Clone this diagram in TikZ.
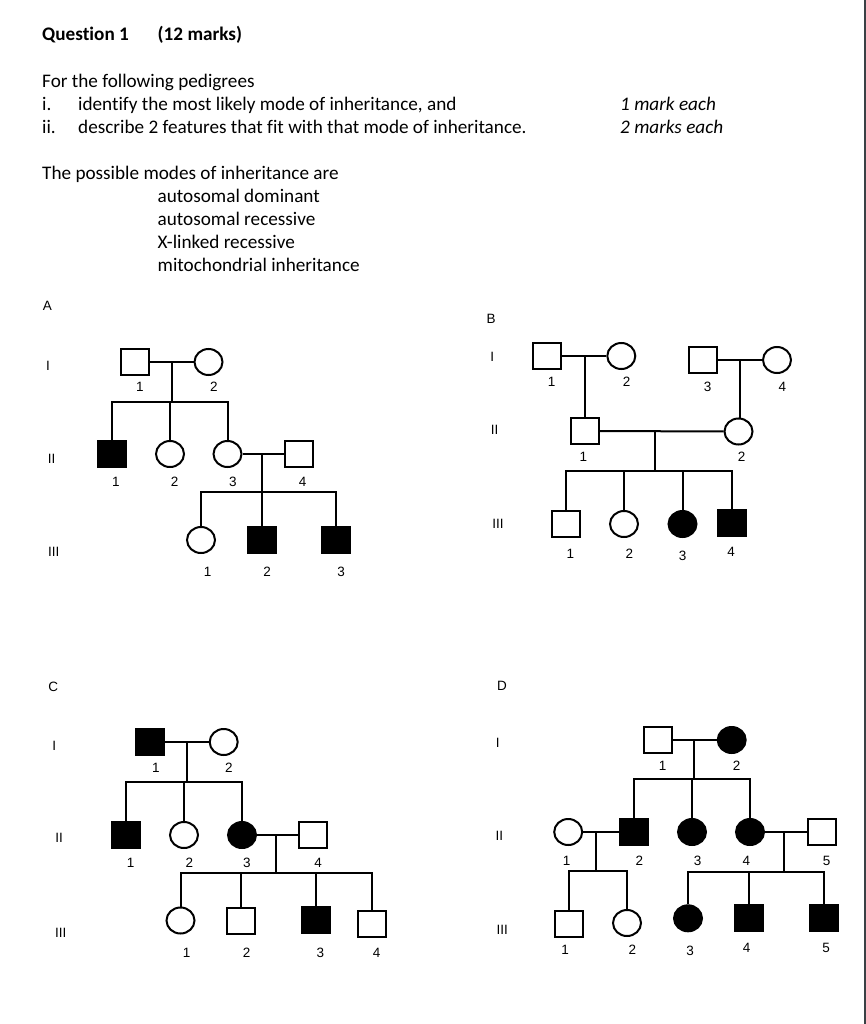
\documentclass[tikz,border=0pt]{standalone}
\usepackage{fontspec}
\setmainfont{Carlito}[Ligatures=NoCommon]
\newfontfamily\arialf{Liberation Sans}
\usetikzlibrary{shapes.geometric}
\definecolor{bordergray}{HTML}{3A4045}
\begin{document}
\begin{tikzpicture}[x=1pt,y=-1pt,
  ped/.style={line width=2pt},
  male/.style={draw, rectangle, minimum width=28pt, minimum height=26pt, inner sep=0pt, line width=2pt},
  female/.style={draw, ellipse, minimum width=28pt, minimum height=26pt, inner sep=0pt, line width=2pt},
  aff/.style={fill=black},
  lbl/.style={font=\arialf\fontsize{13.5}{15}\selectfont, inner sep=0pt},
  hdr/.style={font=\fontsize{19.2}{23}\selectfont, inner sep=0pt, anchor=base west},
]
\fill[white] (0,0) rectangle (866,1024);
\useasboundingbox (0,0) rectangle (866,1024);
\coordinate (bt) at (864.8,0);
\coordinate (bb) at (864.8,1024);
\draw[line width=2.3pt, bordergray] (bt) -- (bb);

% ---------- header text ----------
\node[hdr, font=\bfseries\fontsize{19.2}{23}\selectfont] (q1) at (42,40.5) {Question 1};
\node[hdr, font=\bfseries\fontsize{19.2}{23}\selectfont] (q2) at (157.5,40.5) {(12 marks)};
\node[hdr] (t1) at (42,87.5) {For the following pedigrees};
\node[hdr] (t2a) at (42,110.5) {i.};
\node[hdr] (t2b) at (78,110.5) {identify the most likely mode of inheritance, and};
\node[hdr] (t3a) at (42,133.5) {ii.};
\node[hdr] (t3b) at (78,133.5) {describe 2 features that fit with that mode of inheritance.};
\node[hdr, font=\itshape\fontsize{19.2}{23}\selectfont] (m1) at (620,110.5) {1 mark each};
\node[hdr, font=\itshape\fontsize{19.2}{23}\selectfont] (m2) at (620,133.5) {2 marks each};
\node[hdr] (t4) at (42,179.5) {The possible modes of inheritance are};
\node[hdr] (t5) at (157.5,202.5) {autosomal dominant};
\node[hdr] (t6) at (157.5,225.5) {autosomal recessive};
\node[hdr] (t7) at (157.5,248.5) {X-linked recessive};
\node[hdr] (t8) at (157.5,271.5) {mitochondrial inheritance};

% ================= Pedigree A =================
\node[lbl] (LA) at (47.3,306) {A};
\node[lbl] (gA1) at (48,366) {I};
\node[lbl] (gA2) at (51.7,459) {II};
\node[lbl] (gA3) at (53.7,552) {III};
\node[male] (A11) at (135,362) {};
\node[female] (A12) at (208.5,362) {};
\node[male, aff] (A21) at (111.5,454) {};
\node[female] (A22) at (170,454) {};
\node[female] (A23) at (227.5,454) {};
\node[male] (A24) at (299,454) {};
\node[female] (A31) at (201,540) {};
\node[male, aff] (A32) at (261.7,540) {};
\node[male, aff] (A33) at (335.5,540) {};
\coordinate (mA1) at (172,362);
\coordinate (sA1) at (172,402);
\coordinate (mA2) at (261.7,454);
\coordinate (sA2) at (261.7,492);
\draw[ped] (A11) -- (A12);
\draw[ped] (mA1) -- (sA1);
\draw[ped] (A21) |- (sA1) -| (A23);
\draw[ped] (A22) -- (A22 |- sA1);
\draw[ped] (A23) -- (A24);
\draw[ped] (mA2) -- (sA2);
\draw[ped] (A31) |- (sA2) -| (A33);
\draw[ped] (A32) -- (sA2);
\node[lbl] (nA11) at (140,387) {1};
\node[lbl] (nA12) at (214,387) {2};
\node[lbl] (nA21) at (116,482) {1};
\node[lbl] (nA22) at (174.7,482) {2};
\node[lbl] (nA23) at (233,482) {3};
\node[lbl] (nA24) at (302.7,482) {4};
\node[lbl] (nA31) at (207.7,572) {1};
\node[lbl] (nA32) at (267,572) {2};
\node[lbl] (nA33) at (341,572) {3};

% ================= Pedigree B =================
\node[lbl] (LB) at (491,319) {B};
\node[lbl] (gB1) at (492.3,357) {I};
\node[lbl] (gB2) at (494.7,430) {II};
\node[lbl] (gB3) at (498,524) {III};
\node[male] (B11) at (547,356) {};
\node[female] (B12) at (621.3,356) {};
\node[male] (B13) at (703.3,360) {};
\node[female] (B14) at (777,360) {};
\node[male] (B21) at (584.7,431) {};
\node[female] (B22) at (738.5,431.5) {};
\node[male] (B31) at (566,524) {};
\node[female] (B32) at (624,524) {};
\node[female, aff] (B33) at (682.5,524) {};
\node[male, aff] (B34) at (732,523) {};
\coordinate (mB1) at (584.7,356);
\coordinate (mB2) at (739.7,360);
\coordinate (mB3) at (655.3,431.5);
\coordinate (sB) at (655.3,471);
\draw[ped] (B11) -- (B12);
\draw[ped] (B13) -- (B14);
\draw[ped] (mB1) -- (B21);
\draw[ped] (mB2) -- (mB2 |- B22.north);
\draw[ped] (B21) -- (B22);
\draw[ped] (mB3) -- (sB);
\draw[ped] (B31) |- (sB) -| (B34);
\draw[ped] (B32) -- (B32 |- sB);
\draw[ped] (B33) -- (B33 |- sB);
\node[lbl] (nB11) at (551.7,382) {1};
\node[lbl] (nB12) at (626.7,382) {2};
\node[lbl] (nB13) at (707.7,387) {3};
\node[lbl] (nB14) at (782.3,387) {4};
\node[lbl] (nB21) at (583.3,457) {1};
\node[lbl] (nB22) at (741.7,457) {2};
\node[lbl] (nB31) at (570.3,554) {1};
\node[lbl] (nB32) at (629.3,554) {2};
\node[lbl] (nB33) at (682.7,556) {3};
\node[lbl] (nB34) at (731,552) {4};

% ================= Pedigree C =================
\node[lbl] (LC) at (53.3,687) {C};
\node[lbl] (gC1) at (54.3,746) {I};
\node[lbl] (gC2) at (59,838) {II};
\node[lbl] (gC3) at (60.7,933) {III};
\node[male, aff] (C11) at (149.8,742) {};
\node[female] (C12) at (223.7,742) {};
\node[male, aff] (C21) at (126,835) {};
\node[female] (C22) at (184,835) {};
\node[female, aff] (C23) at (242,835) {};
\node[male] (C24) at (313.3,835) {};
\node[female] (C31) at (180.5,920.5) {};
\node[male] (C32) at (241.3,921) {};
\node[male, aff] (C33) at (315.5,920) {};
\node[male] (C34) at (372,924) {};
\coordinate (mC1) at (186.7,742);
\coordinate (sC1) at (186.7,782);
\coordinate (mC2) at (276,835);
\coordinate (sC2) at (276,873);
\draw[ped] (C11) -- (C12);
\draw[ped] (mC1) -- (sC1);
\draw[ped] (C21) |- (sC1) -| (C23);
\draw[ped] (C22) -- (C22 |- sC1);
\draw[ped] (C23) -- (C24);
\draw[ped] (mC2) -- (sC2);
\draw[ped] (C31) |- (sC2) -| (C34);
\draw[ped] (C32) -- (C32 |- sC2);
\draw[ped] (C33) -- (C33 |- sC2);
\node[lbl] (nC11) at (156,768) {1};
\node[lbl] (nC12) at (229,768) {2};
\node[lbl] (nC21) at (130.7,863) {1};
\node[lbl] (nC22) at (189.3,863) {2};
\node[lbl] (nC23) at (247,863) {3};
\node[lbl] (nC24) at (318,863) {4};
\node[lbl] (nC31) at (186.7,953) {1};
\node[lbl] (nC32) at (246.7,953) {2};
\node[lbl] (nC33) at (320.3,953) {3};
\node[lbl] (nC34) at (376.7,953) {4};

% ================= Pedigree D =================
\node[lbl] (LD) at (502,686) {D};
\node[lbl] (gD1) at (497.7,743) {I};
\node[lbl] (gD2) at (499.3,836) {II};
\node[lbl] (gD3) at (502.3,930) {III};
\node[male] (D11) at (657.7,740) {};
\node[female, aff] (D12) at (731.7,740) {};
\node[female] (D21) at (568.2,832) {};
\node[male, aff] (D22) at (634,832) {};
\node[female, aff] (D23) at (692,832) {};
\node[female, aff] (D24) at (750,832) {};
\node[male] (D25) at (821.7,832) {};
\node[male] (D31) at (568.5,923.5) {};
\node[female] (D32) at (627,923) {};
\node[female, aff] (D33) at (688,918.3) {};
\node[male, aff] (D34) at (749.4,918) {};
\node[male, aff] (D35) at (824,918) {};
\coordinate (mD1) at (694.3,740);
\coordinate (sD1) at (694.3,779);
\coordinate (mD2) at (596,832);
\coordinate (sD2) at (596,871);
\coordinate (mD3) at (784,832);
\coordinate (sD3) at (784,872);
\draw[ped] (D11) -- (D12);
\draw[ped] (mD1) -- (sD1);
\draw[ped] (D22) |- (sD1) -| (D24);
\draw[ped] (D23) -- (D23 |- sD1);
\draw[ped] (D21) -- (D22);
\draw[ped] (mD2) -- (sD2);
\draw[ped] (D31) |- (sD2) -| (D32);
\draw[ped] (D24) -- (D25);
\draw[ped] (mD3) -- (sD3);
\draw[ped] (D33) |- (sD3) -| (D35);
\draw[ped] (D34) -- (D34 |- sD3);
\node[lbl] (nD11) at (662.7,766) {1};
\node[lbl] (nD12) at (736.7,766) {2};
\node[lbl] (nD21) at (566.7,861) {1};
\node[lbl] (nD22) at (639.3,861) {2};
\node[lbl] (nD23) at (697.7,861) {3};
\node[lbl] (nD24) at (746.3,861) {4};
\node[lbl] (nD25) at (826.7,861) {5};
\node[lbl] (nD31) at (565,950) {1};
\node[lbl] (nD32) at (632.3,950) {2};
\node[lbl] (nD33) at (690,951) {3};
\node[lbl] (nD34) at (746.7,948) {4};
\node[lbl] (nD35) at (826,948) {5};
\end{tikzpicture}
\end{document}
